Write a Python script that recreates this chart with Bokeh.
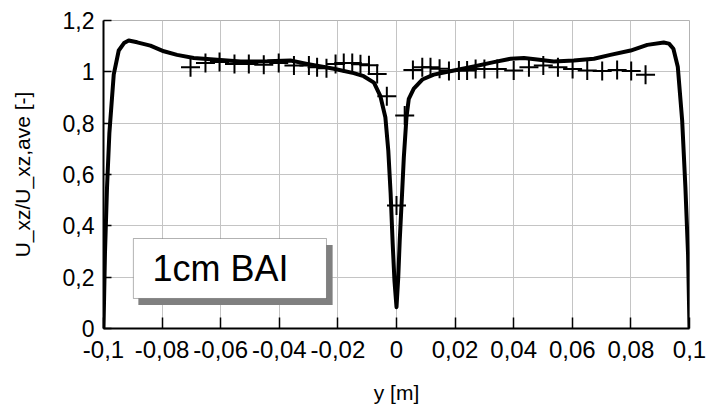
from bokeh.plotting import figure
from bokeh.models import (Range1d, FixedTicker, Legend, LegendItem, Label,
                          BoxAnnotation)
from bokeh.embed import file_html
from bokeh.resources import INLINE

# ---- data -------------------------------------------------------------
sim_y_pos = [-0.1, -0.0995, -0.0988, -0.0980, -0.0965, -0.0948, -0.0930,
             -0.0914, -0.0885, -0.0840, -0.0794, -0.0749, -0.0692, -0.0612,
             -0.0532, -0.0441, -0.0362, -0.0305, -0.0214, -0.0146, -0.0112,
             -0.0077, -0.0055, -0.0038, -0.0028, -0.0020, -0.0013, -0.0007,
             0.0,
             0.0006, 0.0011, 0.0019, 0.0025, 0.0034, 0.0042, 0.0059, 0.0088,
             0.0127, 0.0196, 0.0264, 0.0332, 0.0389, 0.0435, 0.0480, 0.0537,
             0.0605, 0.0674, 0.0730, 0.0799, 0.0856, 0.0912, 0.0930, 0.0945,
             0.0960, 0.0975, 0.0986, 0.0995, 0.1]
sim_u = [0.0, 0.29, 0.55, 0.76, 0.99, 1.083, 1.112,
         1.122, 1.115, 1.102, 1.080, 1.066, 1.054, 1.047,
         1.040, 1.041, 1.044, 1.031, 1.012, 0.995, 0.983,
         0.958, 0.905, 0.823, 0.693, 0.525, 0.330, 0.187,
         0.083,
         0.200, 0.343, 0.525, 0.667, 0.823, 0.895, 0.935, 0.970,
         0.989, 1.005, 1.021, 1.038, 1.051, 1.054, 1.048, 1.040,
         1.044, 1.051, 1.066, 1.083, 1.105, 1.114, 1.110, 1.090,
         1.020, 0.810, 0.550, 0.292, 0.0]

exp_y_pos = [-0.0703, -0.0652, -0.0604, -0.0553, -0.0504, -0.0453, -0.0402,
             -0.0350, -0.0299, -0.0271, -0.0239, -0.0208, -0.0180, -0.0151,
             -0.0123, -0.0094, -0.0066, -0.0033, 0.0, 0.0028,
             0.0056, 0.0088, 0.0116, 0.0147, 0.0179, 0.0213, 0.0241, 0.0270,
             0.0300, 0.0344, 0.0400, 0.0452, 0.0501, 0.0551, 0.0601, 0.0651,
             0.0702, 0.0753, 0.0801, 0.0850]
exp_u = [1.018, 1.034, 1.038, 1.031, 1.031, 1.028, 1.034,
         1.025, 1.025, 1.018, 1.014, 1.031, 1.034, 1.034,
         1.030, 1.026, 0.992, 0.905, 0.479, 0.830,
         1.007, 1.018, 1.018, 1.012, 1.003, 1.005, 1.005, 1.011,
         1.011, 1.011, 1.005, 1.018, 1.025, 1.018, 1.011, 1.005,
         1.003, 1.007, 1.003, 0.989]

x_ticks = [-0.1, -0.08, -0.06, -0.04, -0.02, 0.0, 0.02, 0.04, 0.06, 0.08, 0.1]
x_tick_labels = ["-0,1", "-0,08", "-0,06", "-0,04", "-0,02", "0",
                 "0,02", "0,04", "0,06", "0,08", "0,1"]
y_ticks = [0.0, 0.2, 0.4, 0.6, 0.8, 1.0, 1.2]
y_tick_labels = ["0", "0,2", "0,4", "0,6", "0,8", "1", "1,2"]

FONT = "Liberation Sans"

p = figure(width=712, height=413, output_backend="svg", toolbar_location=None,
           x_range=Range1d(-0.1, 0.1), y_range=Range1d(0, 1.2),
           min_border_left=103, min_border_right=23, min_border_top=20,
           min_border_bottom=85)
p.outline_line_color = "#b3b3b3"
p.outline_line_width = 1
p.background_fill_color = "white"
p.border_fill_color = "white"

# grid
for g in (p.xgrid, p.ygrid):
    g.grid_line_color = "#c4c4c4"
    g.grid_line_width = 1
p.xgrid.ticker = FixedTicker(ticks=x_ticks)
p.ygrid.ticker = FixedTicker(ticks=y_ticks)

# axes
xa, ya = p.xaxis[0], p.yaxis[0]
xa.ticker = FixedTicker(ticks=x_ticks)
ya.ticker = FixedTicker(ticks=y_ticks)
xa.major_label_overrides = dict(zip(x_ticks, x_tick_labels))
ya.major_label_overrides = dict(zip(y_ticks, y_tick_labels))
for ax in (xa, ya):
    ax.axis_line_color = "black"
    ax.axis_line_width = 2
    ax.major_tick_out = 0
    ax.minor_tick_in = 0
    ax.minor_tick_out = 0
    ax.major_tick_line_color = "black"
    ax.major_tick_line_width = 1.5
    ax.major_label_text_font = FONT
    ax.major_label_text_color = "black"
    ax.axis_label_text_font = FONT
    ax.axis_label_text_font_style = "normal"
    ax.axis_label_text_color = "black"
xa.major_tick_in = 11
ya.major_tick_in = 8
xa.major_label_text_font_size = "24px"
ya.major_label_text_font_size = "23px"
xa.major_label_standoff = 12
ya.major_label_standoff = 9
xa.axis_label = "y [m]"
ya.axis_label = "U_xz/U_xz,ave [-]"
xa.axis_label_text_font_size = "21px"
ya.axis_label_text_font_size = "21px"
xa.axis_label_standoff = 20
ya.axis_label_standoff = 26

# data
r_sim = p.line(sim_y_pos, sim_u, line_color="black", line_width=4,
               line_join="round")
p.scatter(exp_y_pos, exp_u, marker="cross", size=19, line_color="black",
          line_width=2)

# annotation box "1cm BAI" with shadow
p.add_layout(BoxAnnotation(left=-0.0881, right=-0.0218, top=0.325,
                           bottom=0.0917, fill_color="#808080", fill_alpha=1,
                           line_color=None))
p.add_layout(BoxAnnotation(left=-0.0898, right=-0.0239, top=0.3506,
                           bottom=0.117, fill_color="white", fill_alpha=1,
                           line_color="black", line_width=1))
p.add_layout(Label(x=-0.0833, y=0.232, text="1cm BAI", text_font=FONT,
                   text_font_size="36px", text_color="black",
                   text_baseline="middle", text_align="left"))

# legend (in the original it lies under the axis, cut off by the lower edge)
legend = Legend(items=[LegendItem(label="sim", renderers=[r_sim])],
                location=(24, -100), orientation="vertical",
                border_line_color="black", border_line_width=1,
                padding=8, spacing=0, margin=0,
                glyph_width=60, glyph_height=20, label_height=20,
                label_standoff=7, label_width=77,
                label_text_font=FONT, label_text_font_size="22px",
                background_fill_color="white", background_fill_alpha=1)
p.add_layout(legend, "center")

open("out.html", "w").write(file_html(p, INLINE))
